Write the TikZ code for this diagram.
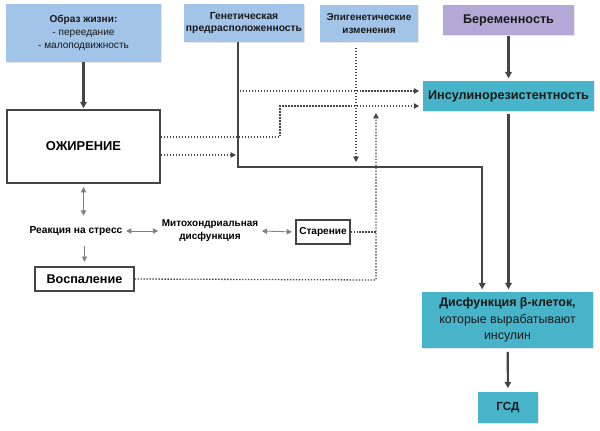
\documentclass[tikz,border=0pt]{standalone}
\usepackage{fontspec}
\setmainfont{Liberation Sans}
\usetikzlibrary{arrows.meta,shadows}

\definecolor{lblue}{HTML}{A2C4E9}
\definecolor{lpurple}{HTML}{B5A8D7}
\definecolor{teal}{HTML}{48B4C9}
\definecolor{dgray}{HTML}{454545}

\tikzset{
  box/.style={draw=none, align=center, inner sep=1pt, text=black!90,
    drop shadow={opacity=0.2, shadow xshift=0.6pt, shadow yshift=-0.9pt}},
  wbox/.style={draw=dgray, line width=0.9pt, fill=white, align=center, inner sep=1pt},
  thick arrow/.style={dgray, line width=1.8pt, -{Triangle[length=5.5pt,width=5.5pt]}},
  thin arrow/.style={gray, line width=0.7pt, {Triangle[length=4.5pt,width=4.5pt]}-{Triangle[length=4.5pt,width=4.5pt]}},
  dots/.style={dgray, line width=1.1pt, dash pattern=on 1.2pt off 1.35pt},
  dot arrow/.style={dots, -{Triangle[length=4.5pt,width=4.5pt]}},
}

\begin{document}
\begin{tikzpicture}[x=0.03cm,y=-0.03cm]
\useasboundingbox (0,0) rectangle (600,431);

% top row
\node[box, fill=lblue, minimum width=4.65cm, minimum height=1.74cm, font=\fontsize{8.6}{11}\selectfont] (life) at (83.5,33)
  {\textbf{Образ жизни:}\\ - переедание\\ - малоподвижность};
\node[box, fill=lblue, minimum width=3.6cm, minimum height=1.14cm, font=\bfseries\fontsize{8.8}{11}\selectfont] (gen) at (244,23)
  {Генетическая\\ предрасположенность};
\node[box, fill=lblue, minimum width=2.94cm, minimum height=1.11cm, font=\bfseries\fontsize{8.5}{11}\selectfont] (epi) at (369,23.5)
  {Эпигенетические\\ изменения};
\node[box, fill=lpurple, minimum width=3.93cm, minimum height=0.9cm, font=\bfseries\fontsize{10.8}{13}\selectfont] (preg) at (508.5,20)
  {Беременность};

% right column
\node[box, fill=teal, minimum width=5.13cm, minimum height=0.9cm, font=\bfseries\fontsize{10.8}{13}\selectfont] (ir) at (508.5,96)
  {Инсулинорезистентность};
\node[box, fill=teal, minimum width=5.13cm, minimum height=1.68cm, font=\fontsize{10.6}{14}\selectfont] (dys) at (507.5,320)
  {\textbf{Дисфункция β-клеток,}\\ которые вырабатывают\\ инсулин};
\node[box, fill=teal, minimum width=1.8cm, minimum height=0.93cm, font=\bfseries\fontsize{10}{12}\selectfont] (gdm) at (508,407.5)
  {ГСД};

% left part
\node[wbox, minimum width=4.59cm, minimum height=2.19cm, font=\bfseries\fontsize{11}{13}\selectfont] (obes) at (83.5,146.5)
  {ОЖИРЕНИЕ};
\node[align=center, inner sep=1pt, font=\bfseries\fontsize{8.7}{11}\selectfont] (stress) at (76,231)
  {Реакция на стресс};
\node[align=center, inner sep=1pt, font=\bfseries\fontsize{8.5}{11}\selectfont] (mito) at (210,231)
  {Митохондриальная\\ дисфункция};
\node[wbox, minimum width=1.62cm, minimum height=0.72cm, font=\bfseries\fontsize{8.6}{10}\selectfont] (aging) at (323,232)
  {Старение};
\node[wbox, minimum width=2.97cm, minimum height=0.72cm, font=\bfseries\fontsize{10.8}{12}\selectfont] (infl) at (84.5,279)
  {Воспаление};

% solid arrows
\draw[thick arrow, shorten >=1pt] (life) -- (obes);
\draw[thick arrow, shorten <=1pt, shorten >=2pt] (preg) -- (ir);
\draw[thick arrow, shorten <=2pt, shorten >=2pt] (ir.south) -- (ir.south |- dys.north);
\draw[thick arrow, shorten <=3pt, shorten >=3pt] (dys) -- (gdm);

\coordinate (gbend) at (238,167);
\coordinate (gend) at ([xshift=-0.76cm]dys.north);
\draw[thick arrow, shorten >=2pt] (gen.south -| gbend) -- (gbend) -| (gend);

% thin arrows
\draw[thin arrow, shorten <=3pt, shorten >=8pt] (obes.south) -- (obes.south |- stress.north);
\draw[gray, line width=0.7pt, -{Triangle[length=4.5pt,width=4.5pt]}, shorten <=8pt, shorten >=4pt] (infl.north |- stress.south) -- (infl.north);
\draw[thin arrow, shorten <=2pt, shorten >=2pt] (stress.east) -- (mito.west);
\draw[thin arrow, shorten <=2pt, shorten >=3pt] (mito.east) -- (aging.west);

% dotted arrows
\coordinate (o1) at (161,155);
\coordinate (g1) at (236,155);
\draw[dot arrow] (o1) -- (g1);

\coordinate (o2) at (161,137);
\coordinate (s2) at (280,137);
\coordinate (ir2) at ([yshift=-0.3cm]ir.west);
\draw[dot arrow, shorten >=3pt] (o2) -- (s2) |- (ir2);

\coordinate (g3) at (240,91);
\coordinate (ir3) at ([yshift=0.15cm]ir.west);
\draw[dot arrow, shorten >=3pt] (g3) -- (ir3);

\coordinate (e1) at (356,42);
\coordinate (e2) at (356,162);
\draw[dot arrow] (e1) ++(0,6) -- (e2);

\coordinate (v1) at (376,280);
\coordinate (v2) at (376,113);
\coordinate (v3) at (376,232);
\draw[dots] (aging.east) -- (v3);
\draw[dot arrow] (infl.east) -- (v1) -- (v2);

\end{tikzpicture}
\end{document}
